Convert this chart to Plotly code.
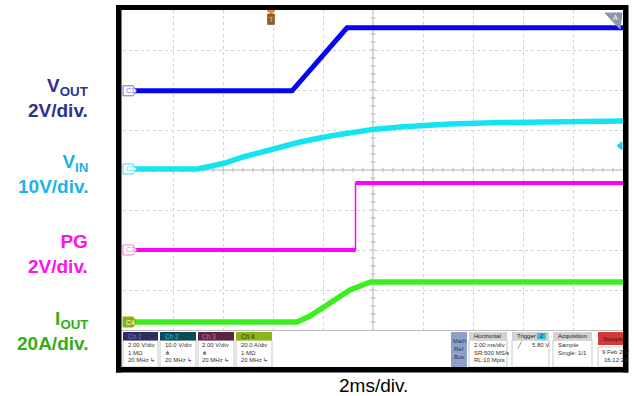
import plotly.graph_objects as go

W, H = 634, 396

# ---------------- data ----------------
# time in ms (left edge of screen = 0, 2 ms/div, 10 div)
vout_t = [0, 6.76, 8.96, 20]
vout_v = [0, 0, 3.15, 3.15]                      # V

vin_t = [0, 2.96, 3.36, 4.08, 4.8, 5.76, 7.08, 8.28, 10.0, 11.08, 13.08, 15.08, 17.48, 20]
vin_v = [0, 0, 0.5, 1.5, 3.0, 4.5, 6.75, 8.25, 9.9, 10.5, 11.25, 11.6, 11.9, 12.0]   # V

pg_t = [0, 9.3, 9.3, 20]
pg_v = [0, 0, 3.35, 3.35]                        # V

iout_t = [0, 6.96, 7.48, 8.28, 9.08, 9.9, 20]
iout_a = [0, 0, 3, 9.5, 16, 20, 20]              # A

channel_ids = ["C1", "C2", "C3", "C4"]
channel_names = ["V<sub>OUT</sub>", "V<sub>IN</sub>", "PG", "I<sub>OUT</sub>"]
scale_labels = ["2V/div.", "10V/div.", "2V/div.", "20A/div."]
channel_scales = [2, 10, 2, 20]                  # units / div
channel_pos = [1.98, 0.025, -2.0, -3.8]          # ground level, divisions from centre
trigger_level = 5.80                             # V on Ch2
trigger_time = 5.92                              # ms

ch_box_titles = ["Ch 1", "Ch 2", "Ch 3", "Ch 4"]
ch_box_lines = [["2.00 V/div", "1 MΩ", "20 MHz ↳"],
                ["10.0 V/div", "⋔", "20 MHz ↳"],
                ["2.00 V/div", "⋔", "20 MHz ↳"],
                ["20.0 A/div", "1 MΩ", "20 MHz ↳"]]

# ---------------- styling ----------------
trace_colors = ["#0505F2", "#14E4F2", "#FF00FF", "#3CF020"]
trace_widths = [5, 5.5, 4, 5.5]
label_colors = ["#2E3192", "#1CB2EA", "#FF10F0", "#33AE1A"]
marker_lines = ["#6A6AF0", "#40D8F0", "#F080C8", "#86B214"]
hdr_fill = ["#2C2F5E", "#0F4858", "#5A2442", "#8DB318"]
hdr_text = ["#6A78E0", "#30C8E8", "#E070A8", "#2A3A08"]

PX0, PX1, PY0, PY1 = 123, 623, 10, 330
T_RANGE = [0, 20]
D_RANGE = [-4, 4]


def fx(x):
    return x / W


def fy(y):
    return 1 - y / H


def tx(t):
    return PX0 + (t - T_RANGE[0]) / (T_RANGE[1] - T_RANGE[0]) * (PX1 - PX0)


def dy(d):
    return PY0 + (D_RANGE[1] - d) / (D_RANGE[1] - D_RANGE[0]) * (PY1 - PY0)


def to_div(vals, ch):
    return [channel_pos[ch] + v / channel_scales[ch] for v in vals]


fig = go.Figure()

series = [(vout_t, vout_v), (vin_t, vin_v), (pg_t, pg_v), (iout_t, iout_a)]
for i, (t, v) in enumerate(series):
    if i == 2:
        # thin edge + thick levels
        fig.add_trace(go.Scatter(x=t, y=to_div(v, i), mode="lines",
                                 line=dict(color=trace_colors[i], width=1.5),
                                 hoverinfo="skip", showlegend=False))
        fig.add_trace(go.Scatter(x=t[:2], y=to_div(v[:2], i), mode="lines",
                                 line=dict(color=trace_colors[i], width=trace_widths[i]),
                                 hoverinfo="skip", showlegend=False))
        fig.add_trace(go.Scatter(x=t[2:], y=to_div(v[2:], i), mode="lines",
                                 line=dict(color=trace_colors[i], width=trace_widths[i]),
                                 hoverinfo="skip", showlegend=False))
    else:
        fig.add_trace(go.Scatter(x=t, y=to_div(v, i), mode="lines",
                                 line=dict(color=trace_colors[i], width=trace_widths[i]),
                                 hoverinfo="skip", showlegend=False))

shapes = []
ann = []


def rect(x0, y0, x1, y1, fill, line=None, lw=0, layer="above"):
    shapes.append(dict(type="rect", xref="paper", yref="paper",
                       x0=fx(x0), x1=fx(x1), y0=fy(y1), y1=fy(y0),
                       fillcolor=fill, line=dict(color=line or fill, width=lw),
                       layer=layer))


def path(pts, fill, line=None, lw=1, layer="above"):
    d = "M " + " L ".join(f"{fx(a):.5f},{fy(b):.5f}" for a, b in pts) + " Z"
    shapes.append(dict(type="path", xref="paper", yref="paper", path=d,
                       fillcolor=fill, line=dict(color=line or fill, width=lw), layer=layer))


def text(x, y, s, size, color, xa="left", bold=False, family="Liberation Sans, Arial"):
    if bold:
        s = f"<b>{s}</b>"
    ann.append(dict(xref="paper", yref="paper", x=fx(x), y=fy(y), text=s,
                    showarrow=False, xanchor=xa, yanchor="middle",
                    font=dict(size=size, color=color, family=family)))


# centre cross with minor ticks
cx = (T_RANGE[0] + T_RANGE[1]) / 2
shapes.append(dict(type="line", xref="x", yref="y", x0=cx, x1=cx, y0=D_RANGE[0], y1=D_RANGE[1],
                   line=dict(color="#B4B4B4", width=1), layer="below"))
shapes.append(dict(type="line", xref="x", yref="y", x0=T_RANGE[0], x1=T_RANGE[1], y0=0, y1=0,
                   line=dict(color="#B4B4B4", width=1), layer="below"))
for i in range(1, 50):
    t = i * 0.4
    shapes.append(dict(type="line", xref="x", yref="y", x0=t, x1=t, y0=-0.06, y1=0.06,
                       line=dict(color="#B4B4B4", width=1), layer="below"))
for j in range(-19, 20):
    d = j * 0.2
    shapes.append(dict(type="line", xref="x", yref="y", x0=cx - 0.1, x1=cx + 0.1, y0=d, y1=d,
                       line=dict(color="#B4B4B4", width=1), layer="below"))

# bottom edge of graticule
shapes.append(dict(type="line", xref="paper", yref="paper", x0=fx(121), x1=fx(623),
                   y0=fy(330.5), y1=fy(330.5), line=dict(color="#BCBCBC", width=1)))

# channel ground markers
for i in range(4):
    yc = dy(channel_pos[i])
    pts = [(123, yc - 5), (133, yc - 5), (136.5, yc), (133, yc + 5), (123, yc + 5)]
    if i == 3:
        path(pts, marker_lines[i], marker_lines[i], 1)
        text(124, yc, channel_ids[i], 7, "#FFFFFF")
    else:
        path(pts, "#FFFFFF", marker_lines[i], 1)
        text(124, yc, channel_ids[i], 7, marker_lines[i])

# trigger time marker (top)
xt = tx(trigger_time)
path([(xt - 4, 10.5), (xt + 4, 10.5), (xt, 14)], "#F08A1A")
rect(xt - 3.5, 14, xt + 3.5, 24.5, "#9A5A1C", "#6A3A10", 0.5)
text(xt, 19.3, "T", 7, "#F0D0A0", xa="center")

# trigger level marker (right, Ch2)
yl = dy(channel_pos[1] + trigger_level / channel_scales[1])
path([(617, yl), (622, yl - 4), (622, yl + 4)], "#20D0F0")

# top-right icon
path([(605, 13), (622, 13), (620, 29)], "#8A96A8")
text(615, 18, "A", 7, "#FFFFFF", xa="center")

# ---- status bar ----
box_x = [(123, 158), (160, 196), (198, 234), (236, 272)]
for i, (a, b) in enumerate(box_x):
    rect(a, 340, b, 367, "#FFFFFF", "#C8C8C8", 1)
    rect(a, 332, b, 340.5, hdr_fill[i])
    text(a + 2.5, 336.3, ch_box_titles[i], 6.5, hdr_text[i])
    for k, s in enumerate(ch_box_lines[i]):
        text(a + 2.5, 345 + k * 7.5, s, 6, "#303030")

rect(451, 332, 467, 367, "#8DA0C6")
for k, s in enumerate(["Math", "Ref", "Bus"]):
    text(459, 341 + k * 8, s, 6, "#253670", xa="center")

right_boxes = [
    ((469, 507), "Horizontal", ["2.00 ms/div", "SR:500 MS/s", "RL:10 Mpts"]),
    ((512, 549), "Trigger", ["╱      5.80 V"]),
    ((553, 592), "Acquisition", ["Sample", "Single: 1/1"]),
]
for (a, b), title, lines in right_boxes:
    rect(a, 340, b, 367, "#FFFFFF", "#C8C8C8", 1)
    rect(a, 332, b, 340.5, "#D2D2D2")
    text(a + 2.5, 336.3, title, 6, "#202020")
    for k, s in enumerate(lines):
        text(a + 2.5, 345 + k * 7.5, s, 6, "#303030")
rect(537, 333, 546, 339.5, "#2CC8E2")
text(541.5, 336.3, "2", 6, "#102030", xa="center")

rect(598, 332, 623, 345, "#D23A3A")
text(600.5, 338.5, "Stopped", 6, "#5A0808")
rect(598, 347, 623, 367, "#FFFFFF", "#C8C8C8", 1)
text(600, 352, "9 Feb 202", 6, "#303030")
text(602, 359.5, "16:12:23", 6, "#303030")

# black scope frame
rect(116, 5, 628, 10, "#000000")
rect(116, 367, 628, 372.5, "#000000")
rect(116, 5, 121.5, 372.5, "#000000")
rect(623, 5, 628.5, 372.5, "#000000")

# left channel labels
label_centers = [98.5, 173.5, 254, 330.5]
for i in range(4):
    ann.append(dict(xref="paper", yref="paper", x=fx(90), y=fy(label_centers[i]),
                    text=f"<b>{channel_names[i]}<br>{scale_labels[i]}</b>",
                    showarrow=False, xanchor="right", yanchor="middle", align="right",
                    font=dict(size=19, color=label_colors[i], family="Liberation Sans, Arial")))

# time base label
text(373, 385, "2ms/div.", 19, "#000000", xa="center")

fig.update_layout(
    width=W, height=H, margin=dict(l=0, r=0, t=0, b=0),
    paper_bgcolor="#FFFFFF", plot_bgcolor="#FFFFFF",
    xaxis=dict(domain=[fx(PX0), fx(PX1)], range=T_RANGE, dtick=2, tick0=0,
               showgrid=True, gridcolor="#D2D2D2", griddash="dot", gridwidth=1,
               zeroline=False, showticklabels=False, ticks="", showline=False, fixedrange=True),
    yaxis=dict(domain=[fy(PY1), fy(PY0)], range=D_RANGE, dtick=1, tick0=0,
               showgrid=True, gridcolor="#D2D2D2", griddash="dot", gridwidth=1,
               zeroline=False, showticklabels=False, ticks="", showline=False, fixedrange=True),
    shapes=shapes, annotations=ann, showlegend=False,
)

fig.write_html("out.html")
